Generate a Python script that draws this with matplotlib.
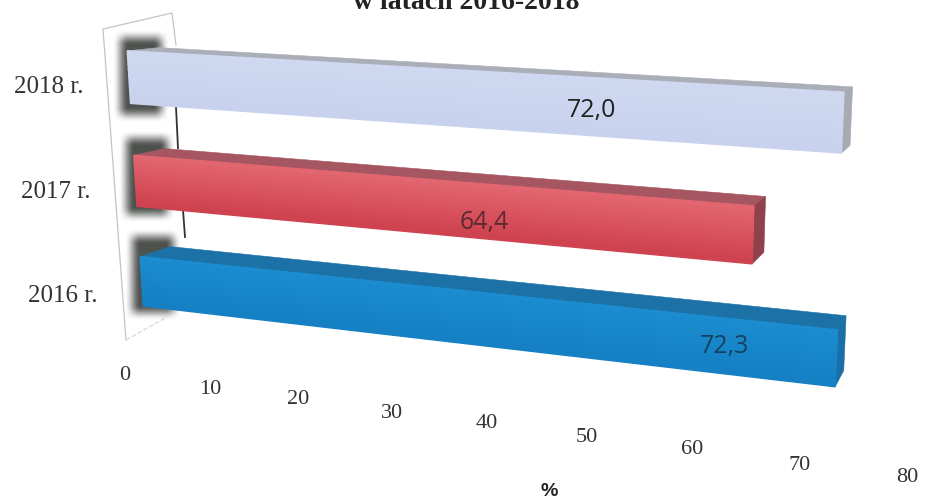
import numpy as np
import matplotlib
matplotlib.use('Agg')
import matplotlib.pyplot as plt

title = 'w latach 2016-2018'
years = ['2016 r.', '2017 r.', '2018 r.']
values = [72.3, 64.4, 72.0]
value_labels = ['72,3', '64,4', '72,0']
ticks = [0, 10, 20, 30, 40, 50, 60, 70, 80]

# front top, front bottom, top face, side face
colors = [('#1a8ccf', '#1580c4', '#1c72a6', '#1a6fa8'),
          ('#e2666f', '#cf4250', '#a65660', '#8f424c'),
          ('#cfd8f0', '#c8d2ee', '#a9aeb8', '#a6abb3')]

W, H = 930, 503
half = 0.25

# (value, row, depth) -> pixel, camera fitted below
calib = [
    (0, 2.25, 0, 127, 53), (0, 1.75, 0, 128, 102), (0, 1.25, 0, 135, 155),
    (0, 0.75, 0, 137, 205), (0, 0.25, 0, 141, 255), (0, -0.25, 0, 143, 308),
    (72, 2.25, 0, 843, 95), (72, 1.75, 0, 843, 151), (64.4, 1.25, 0, 753, 207),
    (64.4, 0.75, 0, 755, 264), (72.3, 0.25, 0, 836, 328), (72.3, -0.25, 0, 835, 387),
    (0, 2.25, 1, 160, 47), (72, 2.25, 1, 852, 87), (72, 1.75, 1, 852, 143),
    (0, 1.25, 1, 165, 149), (64.4, 1.25, 1, 764, 198), (64.4, 0.75, 1, 763, 250),
    (0, 0.25, 1, 170, 247), (72.3, 0.25, 1, 846, 319), (72.3, -0.25, 1, 844, 370),
]


def fit_camera(points):
    A = []
    for v, r, d, px, py in points:
        A.append([v, r, d, 1, 0, 0, 0, 0, -px * v, -px * r, -px * d, -px])
        A.append([0, 0, 0, 0, v, r, d, 1, -py * v, -py * r, -py * d, -py])
    return np.linalg.svd(np.array(A, dtype=float))[2][-1].reshape(3, 4)


P = fit_camera(calib)


def project(v, r, d):
    p = P @ np.array([v, r, d, 1.0])
    return p[0] / p[2], p[1] / p[2]


def face(ax, corners, color, zorder=3, lw=0.4):
    pts = [project(*c) for c in corners]
    ax.fill([p[0] for p in pts], [p[1] for p in pts], color=color, lw=lw, zorder=zorder)


def soft_edge(t, left, right, blur):
    a = np.clip((t - left) / blur + 0.5, 0, 1)
    b = np.clip((right - t) / blur + 0.5, 0, 1)
    return (a * a * (3 - 2 * a)) * (b * b * (3 - 2 * b))


def draw_shadow(ax, row):
    cx, cy = project(0, row, 1)
    x = np.arange(cx - 70, cx + 30, 1.0)
    y = np.arange(cy - 80, cy + 80, 1.0)
    alpha = np.outer(soft_edge(y, cy - 35, cy + 42, 16), soft_edge(x, cx - 40, cx + 1, 16))
    img = np.zeros(alpha.shape + (4,))
    img[..., :3] = matplotlib.colors.to_rgb('#3a3e3a')
    img[..., 3] = alpha * 0.9
    ax.imshow(img, extent=(x[0], x[-1], y[-1], y[0]), aspect='auto', zorder=2)


def draw_bar(ax, row, value, cols):
    low, high = row - half, row + half
    face(ax, [(0, high, 0), (value, high, 0), (value, high, 1), (0, high, 1)], cols[2])
    face(ax, [(value, low, 0), (value, high, 0), (value, high, 1), (value, low, 1)], cols[3])
    c1 = np.array(matplotlib.colors.to_rgb(cols[0]))
    c2 = np.array(matplotlib.colors.to_rgb(cols[1]))
    edges = np.linspace(high, low, 13)
    for i in range(12):
        c = c1 + (c2 - c1) * i / 11
        face(ax, [(0, edges[i], 0), (value, edges[i], 0), (value, edges[i + 1], 0), (0, edges[i + 1], 0)], c, 4, 1.0)


fig = plt.figure(figsize=(W / 100, H / 100), dpi=100)
ax = fig.add_axes([0, 0, 1, 1])

# back wall
ax.plot([126, 103, 172, 176], [340, 29, 13, 45], color='#c4c4c4', lw=0.9, zorder=1)
ax.plot([126, 167], [340, 317], color='#d8d8d8', lw=0.9, ls='--', zorder=1)
ax.plot([176, 178], [107, 148], color='#333333', lw=1.3, zorder=3)
ax.plot([183, 185], [210, 237], color='#333333', lw=1.3, zorder=3)

for i in range(len(values)):
    draw_shadow(ax, i)
for i in range(len(values)):
    draw_bar(ax, i, values[i], colors[i])

ax.set_xlim(0, W)
ax.set_ylim(H, 0)
ax.axis('off')

serif = 'Liberation Serif'
ax.text(466, 9, title, ha='center', va='baseline', family=serif, weight='bold', fontsize=20, color='#222222')

year_pos = [(97, 302), (90, 198), (83, 93)]
for label, pos in zip(years, year_pos):
    ax.text(pos[0], pos[1], label, ha='right', va='baseline', family=serif, fontsize=18, color='#333333')

value_pos = [(725, 353), (484, 229), (592, 117)]
value_cols = ['#15405f', '#5a2a30', '#222222']
for label, pos, c in zip(value_labels, value_pos, value_cols):
    ax.text(pos[0], pos[1], label, ha='center', va='baseline', family='Open Sans', fontsize=18, color=c, zorder=6)

tick_pos = [(125, 375), (210, 389), (298, 400), (392, 414), (487, 423), (587, 437), (692, 450), (800, 465), (907, 478)]
for t, pos in zip(ticks, tick_pos):
    ax.text(pos[0], pos[1], str(t), ha='center', va='center', family=serif, fontsize=16, color='#333333')

ax.text(549, 492, '%', ha='center', va='center', family='Liberation Sans', weight='bold', fontsize=14, color='#222222')

fig.savefig('out.png', dpi=100)
